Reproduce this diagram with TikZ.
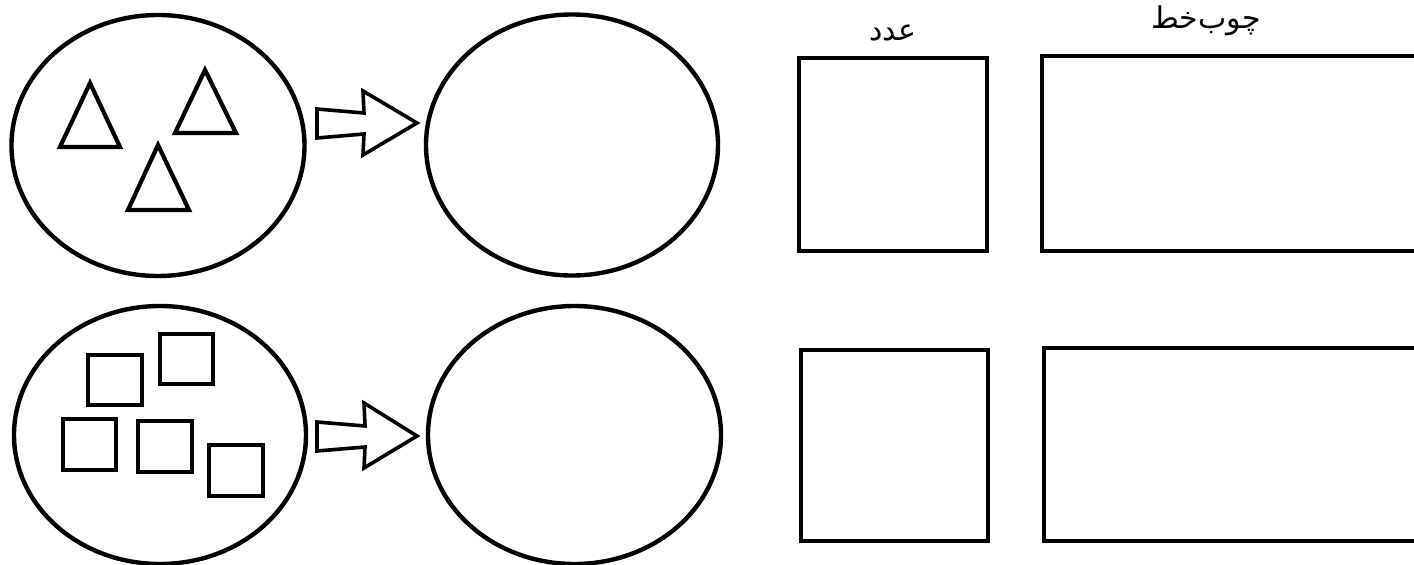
\documentclass[tikz,border=0pt]{standalone}
\usepackage{fontspec}
\usetikzlibrary{shapes.geometric}
\TeXXeTstate=1
\newfontfamily\arabicfont[Script=Arabic]{DejaVu Sans}
\begin{document}
\begin{tikzpicture}[x=1pt,y=-1pt,
  oval/.style={ellipse,draw,line width=4.4pt,inner sep=0pt},
  tri/.style={draw,line width=4.2pt,line join=miter},
  sq/.style={draw,line width=4.4pt},
  box/.style={draw,line width=4.6pt},
  blockarrow/.style={draw,line width=3.6pt,line join=miter,fill=white},
  lbl/.style={font=\arabicfont\fontsize{30}{34}\selectfont,inner sep=0pt}]
\useasboundingbox (0,0) rectangle (1414,565);
% ellipses
\node[oval,minimum width=293pt,minimum height=261pt] (e1) at (158,145.5) {};
\node[oval,minimum width=292pt,minimum height=258pt] (e2) at (160,435) {};
\node[oval,minimum width=292pt,minimum height=261pt] (e3) at (572,145) {};
\node[oval,minimum width=293pt,minimum height=258pt] (e4) at (574.5,435) {};
% triangles
\draw[tri] (90,83) -- (120,147) -- (60,147) -- cycle;
\draw[tri] (205,70) -- (236,133) -- (175,133) -- cycle;
\draw[tri] (158,145) -- (189,210) -- (128,210) -- cycle;
% squares
\draw[sq] (88,355) rectangle (142,405);
\draw[sq] (160,334) rectangle (213,384);
\draw[sq] (63,419) rectangle (116,470);
\draw[sq] (138,421) rectangle (192,472);
\draw[sq] (209,445) rectangle (263,496);
% block arrows
\draw[blockarrow] (317,109) -- (364,113) -- (363,91) -- (417,123) -- (363,155) -- (364,134) -- (317,138) -- cycle;
\draw[blockarrow] (317,422) -- (365,426) -- (364,403) -- (417,436) -- (364,468) -- (365,447) -- (317,451) -- cycle;
% boxes
\draw[box] (799,58) rectangle (987,251);
\draw[box] (1414,56) -- (1042,56) -- (1042,251) -- (1414,251);
\draw[box] (801,350) rectangle (988,541);
\draw[box] (1414,348) -- (1044,348) -- (1044,541) -- (1414,541);
% labels
\node[lbl] (l1) at (893,33) {\beginR عدد\endR};
\node[lbl] (l2) at (1206,21) {\beginR چوب‌خط\endR};
\end{tikzpicture}
\end{document}
